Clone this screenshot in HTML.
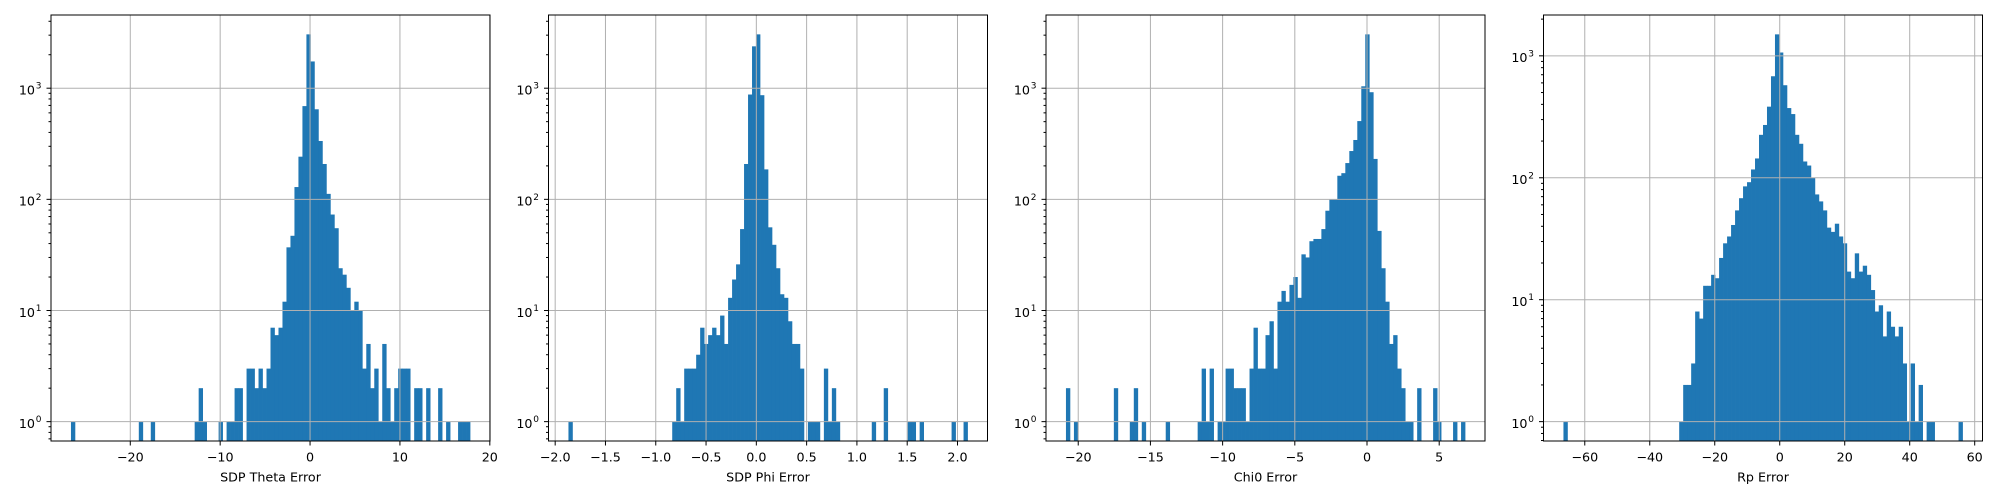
<!DOCTYPE html>
<html><head><meta charset="utf-8"><style>
html,body{margin:0;padding:0;background:#fff;}
svg{display:block;font-family:"DejaVu Sans","Liberation Sans",sans-serif;}
</style></head><body>
<svg id="fig" width="2000" height="500" viewBox="0 0 2000 500" xmlns="http://www.w3.org/2000/svg"></svg>
<script>
const panelTitles = ["SDP Theta Error", "SDP Phi Error", "Chi0 Error", "Rp Error"];
const panelNames = ["sdp-theta-panel", "sdp-phi-panel", "chi0-panel", "rp-panel"];
const binMin = [-26.6, -1.868, -20.85, -66.56];
const binMax = [17.8, 2.10, 6.79, 56.26];
const xTicks = [
  [-20, -10, 0, 10, 20],
  [-2.0, -1.5, -1.0, -0.5, 0.0, 0.5, 1.0, 1.5, 2.0],
  [-20, -15, -10, -5, 0, 5],
  [-60, -40, -20, 0, 20, 40, 60]
];
const xTickLabels = [
  ["−20", "−10", "0", "10", "20"],
  ["−2.0", "−1.5", "−1.0", "−0.5", "0.0", "0.5", "1.0", "1.5", "2.0"],
  ["−20", "−15", "−10", "−5", "0", "5"],
  ["−60", "−40", "−20", "0", "20", "40", "60"]
];
const yDecades = [0, 1, 2, 3];
const countsTheta = [1,0,0,0,0,0,0,0,0,0,0,0,0,0,0,0,0,1,0,0,1,0,0,0,0,0,0,0,0,0,0,1,2,1,0,0,0,1,0,1,1,2,2,0,3,3,2,3,2,3,
  7,6,7,12,37,47,129,242,690,3050,1740,646,335,208,112,73,55,24,21,16,10,12,10,3,5,2,3,1,5,2,1,2,3,3,3,0,2,2,0,2,0,0,2,0,1,0,0,1,1,1];
const countsPhi = [1,0,0,0,0,0,0,0,0,0,0,0,0,0,0,0,0,0,0,0,0,0,0,0,0,0,1,2,1,3,3,3,4,7,5,6,7,6,9,5,
  13,19,26,54,208,877,2380,3050,865,186,56,39,24,14,13,8,5,5,3,0,1,1,1,0,3,1,2,1,0,0,0,0,0,0,0,0,1,0,0,2,0,0,0,0,0,1,1,0,1,0,0,0,0,0,0,0,1,0,0,1];
const countsChi0 = [2,0,1,0,0,0,0,0,0,0,0,0,2,0,0,0,1,2,0,1,0,0,0,0,0,1,0,0,0,0,0,0,0,1,3,1,3,0,1,1,3,3,2,2,2,1,3,7,3,3,
  6,8,3,12,15,12,17,20,13,32,30,42,44,44,54,79,100,100,163,172,212,272,342,506,1040,3050,920,231,52,24,12,5,6,3,2,1,1,0,2,0,0,0,2,1,0,0,0,1,0,1];
const countsRp = [1,0,0,0,0,0,0,0,0,0,0,0,0,0,0,0,0,0,0,0,0,0,0,0,0,0,0,0,0,1,2,2,3,8,7,13,13,16,15,22,29,33,41,54,68,85,92,117,144,225,
  271,383,680,1500,1065,574,373,333,225,190,136,126,100,73,64,54,39,36,42,33,29,17,15,24,17,19,16,12,8,9,5,8,6,5,6,3,1,3,1,2,0,1,1,0,0,0,0,0,0,1];
const allCounts = [countsTheta, countsPhi, countsChi0, countsRp];

const NS = "http://www.w3.org/2000/svg";
const fig = document.getElementById("fig");
const axLeft = [51, 548.5, 1046, 1543.5];
const axW = 439, axTop = 15, axBot = 441;
function mk(tag, attrs, parent) {
  const e = document.createElementNS(NS, tag);
  for (const k in attrs) e.setAttribute(k, attrs[k]);
  parent.appendChild(e);
  return e;
}
for (let p = 0; p < 4; p++) {
  const counts = allCounts[p];
  const L = axLeft[p], R = L + axW;
  const span = binMax[p] - binMin[p];
  const x0 = binMin[p] - 0.05 * span, x1 = binMax[p] + 0.05 * span;
  const xs = v => L + (v - x0) / (x1 - x0) * axW;
  const M = Math.max(...counts);
  const lo = -0.05 * Math.log10(M), hi = 1.05 * Math.log10(M);
  const ys = v => axBot - (Math.log10(v) - lo) / (hi - lo) * (axBot - axTop);
  const g = mk("g", {}, fig);
  
  
  const clipId = "clip" + p;
  const cp = mk("clipPath", {id: clipId}, g);
  mk("rect", {x: L, y: axTop, width: axW, height: axBot - axTop}, cp);
  const bars = mk("g", {"clip-path": "url(#" + clipId + ")", fill: "#1f77b4"}, g);
  
  
  const bw = span / counts.length;
  for (let i = 0; i < counts.length; i++) {
    if (counts[i] <= 0) continue;
    const xa = xs(binMin[p] + i * bw), xb = xs(binMin[p] + (i + 1) * bw);
    const yt = ys(counts[i]);
    const r = mk("rect", {x: xa, y: yt, width: xb - xa + 0.35, height: axBot + 2 - yt}, bars);
    
    
  }
  const grid = mk("g", {stroke: "#b0b0b0", "stroke-width": 1}, g);
  
  
  xTicks[p].forEach(t => {
    const x = xs(t);
    if (x < L || x > R) return;
    mk("line", {x1: x, x2: x, y1: axTop, y2: axBot}, grid);
  });
  yDecades.forEach(d => {
    const y = ys(Math.pow(10, d));
    mk("line", {x1: L, x2: R, y1: y, y2: y}, grid);
  });
  const tk = mk("g", {stroke: "#000", "stroke-width": 1}, g);
  const labels = mk("g", {fill: "#000", "font-size": "12.7px"}, g);
  
  
  xTicks[p].forEach((t, i) => {
    const x = xs(t);
    if (x < L - 0.5 || x > R + 0.5) return;
    mk("line", {x1: x, x2: x, y1: axBot, y2: axBot + 4.5}, tk);
    const tx = mk("text", {x: x, y: 461.5, "text-anchor": "middle"}, labels);
    tx.textContent = xTickLabels[p][i];
    
    
  });
  for (let d = -1; d <= 4; d++) {
    for (let m = 1; m <= 9; m++) {
      const v = m * Math.pow(10, d);
      const lv = Math.log10(v);
      if (lv < lo || lv > hi) continue;
      const y = ys(v);
      mk("line", {x1: L - (m === 1 ? 4.5 : 2.5), x2: L, y1: y, y2: y}, tk);
    }
  }
  yDecades.forEach(d => {
    const y = ys(Math.pow(10, d));
    const t = mk("text", {x: L - 16, y: y + 6.3, "text-anchor": "end"}, labels);
    t.textContent = "10";
    
    
    const s = mk("text", {x: L - 9.5, y: y + 0.5, "text-anchor": "end", "font-size": "9px"}, labels);
    s.textContent = String(d);
    
    
  });
  const fr = mk("rect", {x: L, y: axTop, width: axW, height: axBot - axTop, fill: "none", stroke: "#000", "stroke-width": 1}, g);
  
  
  const xl = mk("text", {x: L + axW / 2, y: 481.5, "text-anchor": "middle", "font-size": "12.7px", fill: "#000"}, g);
  xl.textContent = panelTitles[p];
  
  
}
</script>
</body></html>
